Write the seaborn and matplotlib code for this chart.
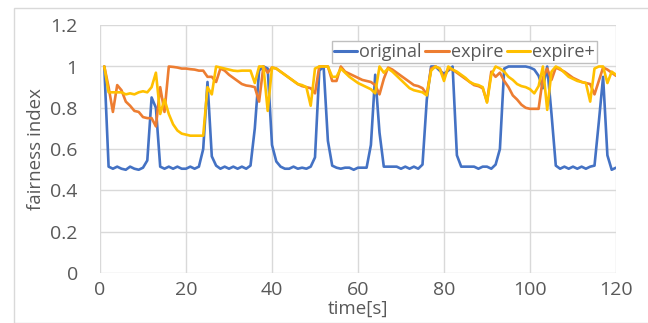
import numpy as np
import pandas as pd
import matplotlib
matplotlib.use("Agg")
import matplotlib.pyplot as plt
import seaborn as sns
from matplotlib.patches import Rectangle

# ---- data (time in seconds, fairness index) ----
time_s = list(range(1, 121))

original = [
    1.0, 0.515, 0.505, 0.515, 0.505, 0.50, 0.515, 0.505, 0.50, 0.51,
    0.545, 0.85, 0.80, 0.515, 0.505, 0.515, 0.505, 0.515, 0.505, 0.505,
    0.515, 0.505, 0.515, 0.60, 0.925, 0.565, 0.52, 0.505, 0.515, 0.505,
    0.515, 0.505, 0.515, 0.505, 0.52, 0.70, 0.98, 1.0, 0.99, 0.62,
    0.54, 0.515, 0.505, 0.505, 0.515, 0.505, 0.51, 0.505, 0.515, 0.56,
    0.98, 1.0, 0.64, 0.52, 0.51, 0.505, 0.51, 0.51, 0.50, 0.51,
    0.51, 0.51, 0.62, 0.96, 0.68, 0.515, 0.515, 0.515, 0.515, 0.505,
    0.515, 0.505, 0.515, 0.505, 0.525, 0.84, 1.0, 1.0, 0.98, 0.965,
    0.98, 1.0, 0.57, 0.515, 0.515, 0.515, 0.515, 0.505, 0.515, 0.515,
    0.505, 0.525, 0.60, 0.99, 1.0, 1.0, 1.0, 1.0, 1.0, 0.995,
    0.985, 0.955, 0.895, 1.0, 0.77, 0.52, 0.505, 0.515, 0.505, 0.515,
    0.505, 0.515, 0.505, 0.515, 0.52, 0.73, 0.95, 0.57, 0.50, 0.51,
]

expire = [
    1.0, 0.90, 0.78, 0.91, 0.885, 0.83, 0.81, 0.785, 0.78, 0.755,
    0.75, 0.75, 0.71, 0.90, 0.78, 1.0, 0.998, 0.995, 0.99, 0.99,
    0.987, 0.985, 0.98, 0.98, 0.95, 0.95, 0.925, 0.99, 0.98, 0.96,
    0.945, 0.93, 0.915, 0.908, 0.905, 0.90, 0.83, 1.0, 0.97, 0.995,
    0.99, 0.975, 0.96, 0.945, 0.93, 0.915, 0.905, 0.90, 0.895, 0.87,
    1.0, 1.0, 1.0, 0.93, 0.93, 1.0, 0.975, 0.965, 0.955, 0.945,
    0.935, 0.93, 0.925, 0.91, 0.865, 0.94, 0.995, 0.985, 0.97, 0.955,
    0.94, 0.925, 0.91, 0.905, 0.895, 0.865, 0.99, 1.0, 0.99, 0.945,
    0.99, 0.985, 0.97, 0.955, 0.94, 0.925, 0.91, 0.905, 0.895, 0.83,
    0.975, 0.95, 0.97, 0.93, 0.90, 0.86, 0.84, 0.815, 0.80, 0.795,
    0.795, 0.795, 0.945, 0.99, 0.935, 0.995, 0.985, 0.975, 0.96, 0.945,
    0.935, 0.925, 0.92, 0.915, 0.865, 0.93, 0.995, 0.985, 0.97, 0.955,
]

expire_plus = [
    1.0, 0.875, 0.875, 0.875, 0.875, 0.865, 0.87, 0.865, 0.875, 0.88,
    0.875, 0.90, 0.97, 0.77, 0.84, 0.77, 0.72, 0.69, 0.675, 0.67,
    0.665, 0.665, 0.665, 0.665, 0.90, 0.865, 1.0, 0.995, 0.99, 0.985,
    0.98, 0.978, 0.98, 0.98, 0.98, 0.92, 1.0, 1.0, 0.785, 0.995,
    0.99, 0.975, 0.96, 0.945, 0.93, 0.915, 0.91, 0.90, 0.81, 0.99,
    1.0, 1.0, 1.0, 0.95, 0.95, 0.99, 0.97, 0.95, 0.935, 0.92,
    0.91, 0.90, 0.89, 0.87, 1.0, 0.97, 0.99, 0.975, 0.955, 0.935,
    0.915, 0.895, 0.885, 0.88, 0.875, 0.86, 0.98, 1.0, 0.99, 0.93,
    1.0, 0.985, 0.975, 0.96, 0.945, 0.925, 0.915, 0.91, 0.90, 0.825,
    0.96, 1.0, 0.99, 0.975, 0.95, 0.935, 0.915, 0.905, 0.90, 0.89,
    0.87, 0.905, 1.0, 0.79, 0.975, 1.0, 0.99, 0.97, 0.95, 0.94,
    0.93, 0.925, 0.92, 0.83, 0.99, 1.0, 1.0, 0.92, 0.975, 0.96,
]

series_names = ["original", "expire", "expire+"]
x_ticks = [0, 20, 40, 60, 80, 100, 120]
y_ticks = [0, 0.2, 0.4, 0.6, 0.8, 1.0, 1.2]
y_tick_labels = ["0", "0.2", "0.4", "0.6", "0.8", "1", "1.2"]

df = pd.DataFrame({
    "time": time_s * 3,
    "value": original + expire + expire_plus,
    "series": (["original"] * len(original) + ["expire"] * len(expire)
               + ["expire+"] * len(expire_plus)),
})

# ---- style ----
sns.set_style("whitegrid")
plt.rcParams["font.family"] = ["Open Sans", "DejaVu Sans"]

W, H = 648, 323
fig = plt.figure(figsize=(W / 100, H / 100), dpi=100)
ax = fig.add_axes([100 / W, 1 - 273 / H, (616 - 100) / W, (273 - 25.2) / H])

# chart-area border (Excel style)
fig.patches.append(Rectangle((14 / W, 0), 1.2, 1 - 8 / H, transform=fig.transFigure,
                             fill=False, edgecolor="#d9d9d9", linewidth=1.0))

palette = {"original": "#4472C4", "expire": "#ED7D31", "expire+": "#FFC000"}
sns.lineplot(data=df, x="time", y="value", hue="series", hue_order=series_names,
             palette=palette, linewidth=1.9, ax=ax, legend=True)

ax.set_xlim(0, 120)
ax.set_ylim(0, 1.2)
ax.set_xticks(x_ticks)
ax.set_yticks(y_ticks)
ax.set_yticklabels(y_tick_labels)
ax.grid(True, color="#d9d9d9", linewidth=1.0)
for s in ax.spines.values():
    s.set_visible(False)
ax.tick_params(axis="both", length=0, labelsize=14, colors="#595959")
ax.tick_params(axis="y", pad=16)
ax.tick_params(axis="x", pad=6)

ax.set_xlabel("time[s]", fontsize=13.5, color="#595959", labelpad=0)
ax.set_ylabel("fairness index", fontsize=13.5, color="#595959", labelpad=4)

handles, labels = ax.get_legend_handles_labels()
leg = ax.legend(handles, labels, loc="upper right", ncol=3, fontsize=13,
                frameon=True, fancybox=False, framealpha=1, edgecolor="#bfbfbf",
                handlelength=1.3, handletextpad=0.1, columnspacing=0.2,
                borderpad=0.12, bbox_to_anchor=(606 / W, 1 - 32 / H),
                bbox_transform=fig.transFigure, labelcolor="#595959")
for line in leg.get_lines():
    line.set_linewidth(2.2)

fig.savefig("out.png", dpi=100)
